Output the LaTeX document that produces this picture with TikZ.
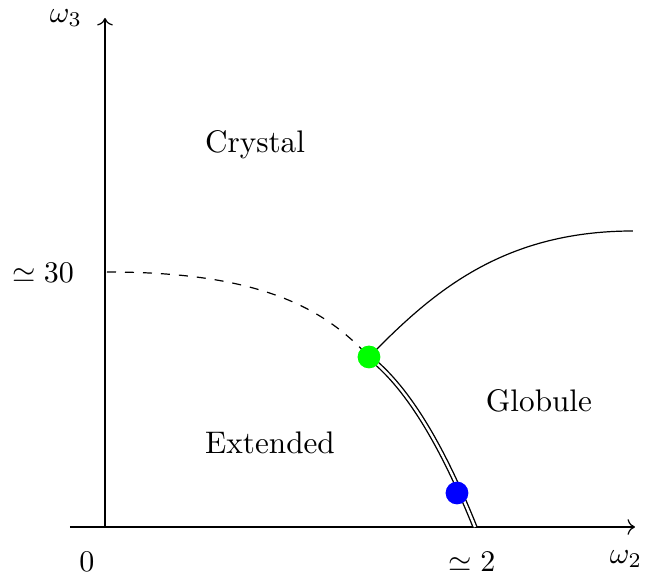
\documentclass[tikz,border=0pt]{standalone}
\usetikzlibrary{arrows.meta}
\begin{document}
\begin{tikzpicture}[x=0.3333pt,y=-0.3333pt,
  every node/.style={font=\fontsize{10.4}{12.5}\selectfont},
  axis/.style={->},
  lbl/.style={inner sep=0pt},
  dot/.style={circle,inner sep=0pt,minimum size=7.6pt},
  border/.style={line width=0.4pt},
  dbl/.style={double,double distance=0.8pt,line width=0.45pt}]
\useasboundingbox (0,0) rectangle (646,576);
% axes
\coordinate (xs) at (70,527);
\coordinate (xe) at (635,527);
\coordinate (ys) at (105,527);
\coordinate (ye) at (105,18);
\draw[axis] (xs) -- (xe);
\draw[axis] (ys) -- (ye);
% labels
\node[lbl] (w3) at (66,18) {$\omega_3$};
\node[lbl] (w2) at (626,559) {$\omega_2$};
\node[lbl] (zero) at (87,562) {$0$};
\node[lbl] (two) at (472,562) {$\simeq 2$};
\node[lbl] (thirty) at (43,273) {$\simeq 30$};
\node[lbl] (cry) at (255,145) {Crystal};
\node[lbl] (ext) at (270,443) {Extended};
\node[lbl] (glo) at (539,401) {Globule};
% points
\coordinate (d0) at (107,272);
\coordinate (g) at (369,357);
\coordinate (s1) at (633,231);
\coordinate (e1) at (475,527);
% curves
\draw[dashed] (d0) .. controls (250,272) and (320,303) .. (g);
\draw[border] (g) .. controls (430,295) and (500,231) .. (s1);
\draw[dbl] (g) .. controls (405,385) and (440,440) .. (e1);
\node[dot,fill=green] (gd) at (g) {};
\node[dot,fill=blue] (bd) at (457,493) {};
\end{tikzpicture}
\end{document}
